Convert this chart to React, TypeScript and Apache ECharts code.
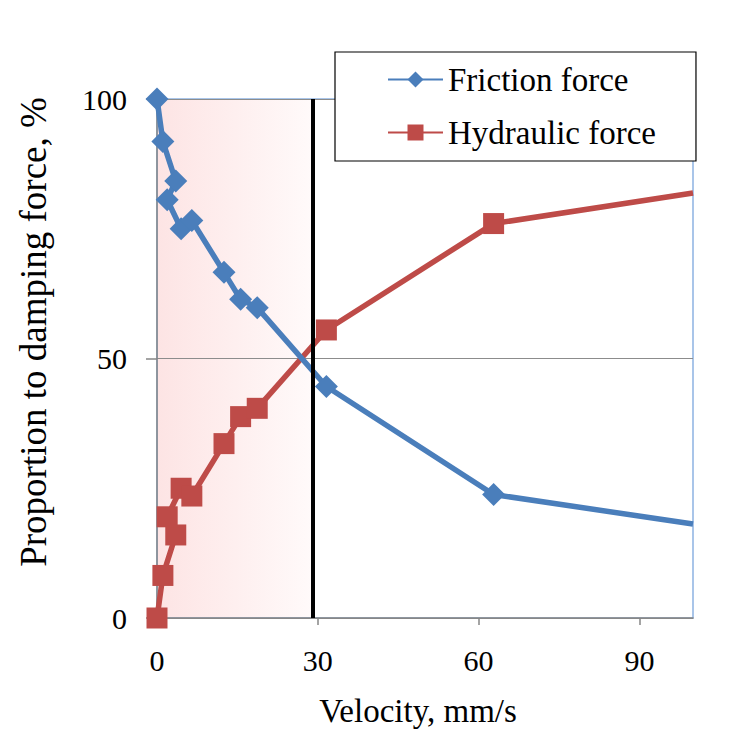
import React, { useEffect, useRef } from "react";
import * as echarts from "echarts";

const velocity = [0, 1.1, 3.5, 1.9, 4.5, 6.5, 12.5, 15.6, 18.7, 31.6, 62.8, 100];
const frictionPct = [100, 91.8, 84.2, 80.6, 75, 76.6, 66.6, 61.4, 59.8, 44.6, 23.8, 18.1];
const hydraulicPct = [0, 8.2, 16, 19.5, 25, 23.5, 33.6, 38.8, 40.4, 55.5, 76, 81.9];
const xTicks = [0, 30, 60, 90];
const yTicks = [0, 50, 100];
const boundaryVelocity = 29;
const seriesNames = ["Friction force", "Hydraulic force"];

const FONT = "'Liberation Serif', 'Times New Roman', serif";

export default function App() {
  const ref = useRef<HTMLDivElement>(null);
  useEffect(() => {
    if (!ref.current) return;
    const chart = echarts.init(ref.current, null, { renderer: "svg" });
    const last = velocity.length - 1;
    const toData = (ys: number[]) =>
      velocity.map((v, i) =>
        i === last ? { value: [v, ys[i]], symbol: "none" } : { value: [v, ys[i]] }
      );
    chart.setOption({
      animation: false,
      backgroundColor: "#ffffff",
      grid: {
        left: 157,
        top: 99,
        right: 39,
        bottom: 111,
        show: true,
        borderColor: "#8db3e2",
        borderWidth: 1.5,
        backgroundColor: "transparent",
        z: 1.5,
      },
      legend: {
        data: seriesNames,
        orient: "vertical",
        left: 335,
        top: 52,
        backgroundColor: "#ffffff",
        borderColor: "#000000",
        borderWidth: 1.2,
        borderRadius: 0,
        padding: [11, 40, 12, 52],
        itemGap: 20,
        itemWidth: 55,
        itemHeight: 20,
        textStyle: { fontFamily: FONT, fontSize: 33, color: "#000", lineHeight: 33 },
      },
      xAxis: {
        type: "value",
        min: 0,
        max: 100,
        interval: 30,
        z: 1.5,
        name: "Velocity, mm/s",
        nameLocation: "middle",
        nameGap: 76,
        nameTextStyle: { fontFamily: FONT, fontSize: 33, color: "#000", padding: [0, 14, 0, 0] },
        axisLine: { show: true, lineStyle: { color: "#868686", width: 1.5 } },
        axisTick: { show: true, length: 7, lineStyle: { color: "#868686", width: 1.5 }, customValues: xTicks },
        axisLabel: { fontFamily: FONT, fontSize: 30, color: "#000", margin: 27, customValues: xTicks },
        splitLine: { show: false },
      },
      yAxis: {
        type: "value",
        min: 0,
        max: 100,
        interval: 50,
        z: 1.5,
        axisLine: { show: true, lineStyle: { color: "#868686", width: 1.5 } },
        axisTick: { show: true, length: 11, lineStyle: { color: "#868686", width: 1.5 }, customValues: yTicks },
        axisLabel: { fontFamily: FONT, fontSize: 30, color: "#000", margin: 30, customValues: yTicks },
        splitLine: { show: true, lineStyle: { color: "#8c8c8c", width: 1.2 } },
      },
      graphic: [
        {
          type: "text",
          x: 33,
          y: 332,
          rotation: Math.PI / 2,
          style: {
            text: "Proportion to damping force, %",
            fontFamily: FONT,
            fontSize: 37,
            fill: "#000",
            align: "center",
            verticalAlign: "middle",
          },
        },
      ],
      series: [
        {
          name: seriesNames[0],
          type: "line",
          data: toData(frictionPct),
          symbol: "diamond",
          symbolSize: 23,
          color: "#4a7ebb",
          lineStyle: { color: "#4a7ebb", width: 5.5 },
          itemStyle: { color: "#4a7ebb" },
          z: 3,
          markArea: {
            silent: true,
            z: 1,
            itemStyle: {
              color: {
                type: "linear",
                x: 0,
                y: 0,
                x2: 1,
                y2: 0,
                colorStops: [
                  { offset: 0, color: "#fde4e4" },
                  { offset: 1, color: "#fffafa" },
                ],
              },
            },
            label: { show: false },
            data: [[{ xAxis: 0, yAxis: 0 }, { xAxis: boundaryVelocity, yAxis: 100 }]],
          },
          markLine: {
            silent: true,
            symbol: ["none", "none"],
            label: { show: false },
            lineStyle: { color: "#000", width: 4, type: "solid" },
            data: [{ xAxis: boundaryVelocity }],
          },
        },
        {
          name: seriesNames[1],
          type: "line",
          data: toData(hydraulicPct),
          symbol: "rect",
          symbolSize: 21,
          color: "#be4b48",
          lineStyle: { color: "#be4b48", width: 5.5 },
          itemStyle: { color: "#be4b48" },
          z: 2,
        },
      ],
    });
    return () => chart.dispose();
  }, []);
  return <div ref={ref} style={{ width: 732, height: 732, position: "absolute", left: 0, top: 0 }} />;
}
